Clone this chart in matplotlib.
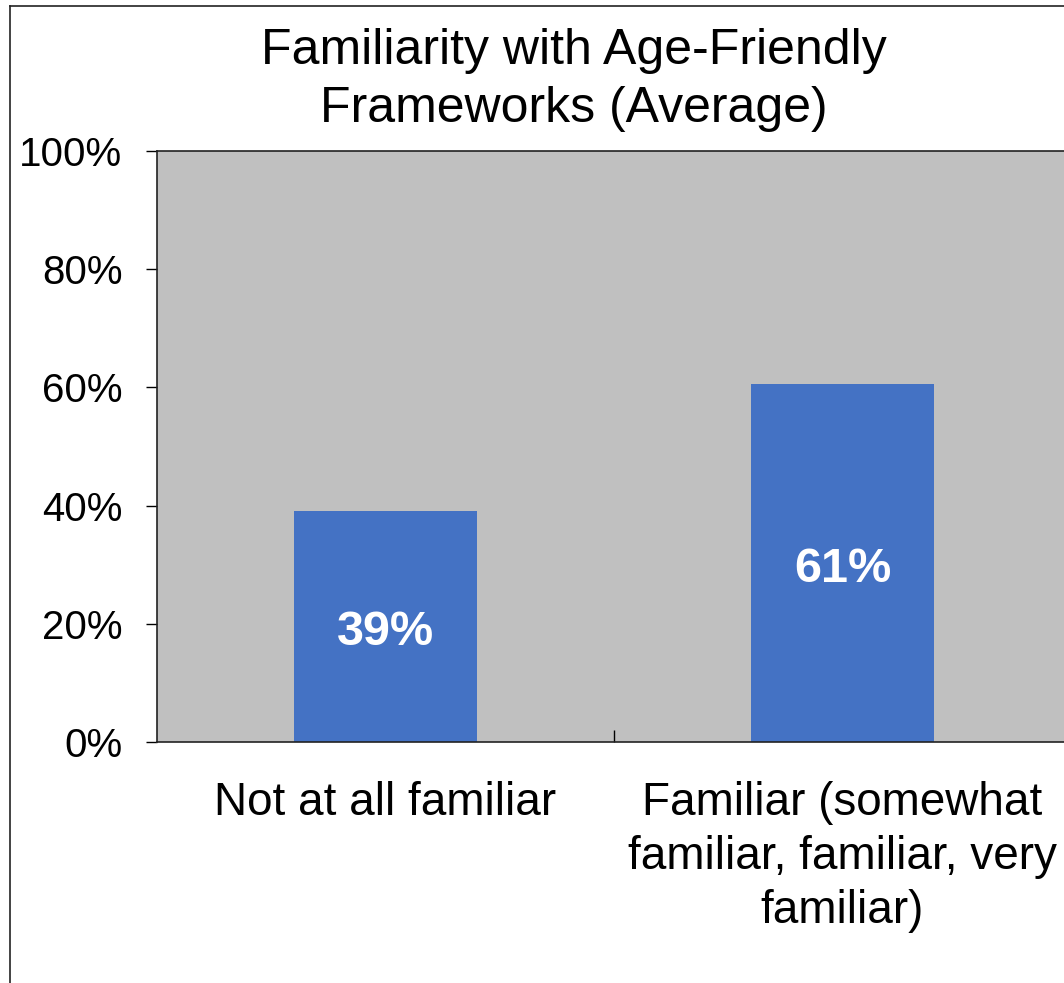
import matplotlib.pyplot as plt
import matplotlib
from matplotlib.lines import Line2D
from matplotlib.ticker import PercentFormatter

matplotlib.rcParams['font.family'] = ['Liberation Sans', 'DejaVu Sans']

categories = ['Not at all familiar', 'Familiar (somewhat\nfamiliar, familiar, very\nfamiliar)']
values = [0.391, 0.606]
labels = ['39%', '61%']
y_ticks = [0, 0.2, 0.4, 0.6, 0.8, 1.0]

fig = plt.figure(figsize=(10.64, 9.83), dpi=100)
ax = fig.add_axes([157 / 1064, 1 - 742 / 983, 914 / 1064, 591 / 983])
ax.set_facecolor('#C0C0C0')

x = range(len(categories))
bars = ax.bar(x, values, width=0.4, color='#4472C4', zorder=2)
for b, t in zip(bars, labels):
    ax.annotate(t, (b.get_x() + b.get_width() / 2, b.get_height() / 2),
                xytext=(0, -4.5), textcoords='offset points',
                ha='center', va='center', color='white', fontsize=35, fontweight='bold')

ax.set_xlim(-0.5, 1.5)
ax.set_ylim(0, 1)
ax.set_yticks(y_ticks)
ax.yaxis.set_major_formatter(PercentFormatter(1.0, decimals=0))
ax.tick_params(axis='y', labelsize=29, length=8, width=1, direction='out', pad=17)

ax.set_xticks(list(x))
ax.set_xticklabels(categories, fontsize=33, linespacing=1.29)
ax.tick_params(axis='x', which='major', length=0, pad=28)
ax.set_xticks([0.5], minor=True)
ax.tick_params(axis='x', which='minor', length=9, width=1, direction='in')

for s in ['left', 'bottom', 'top']:
    ax.spines[s].set_linewidth(1.2)
    ax.spines[s].set_color('#222222')
ax.spines['right'].set_visible(False)

fig.text(574 / 1064, 1 - 80 / 983, 'Familiarity with Age-Friendly\nFrameworks (Average)',
         ha='center', va='center', fontsize=36, linespacing=1.33)

# chart border
fig.add_artist(Line2D([10 / 1064, 10 / 1064], [0, 1 - 6 / 983], color='#222222', lw=1.2))
fig.add_artist(Line2D([10 / 1064, 1], [1 - 6 / 983, 1 - 6 / 983], color='#222222', lw=1.2))

fig.savefig('out.png', dpi=100)
